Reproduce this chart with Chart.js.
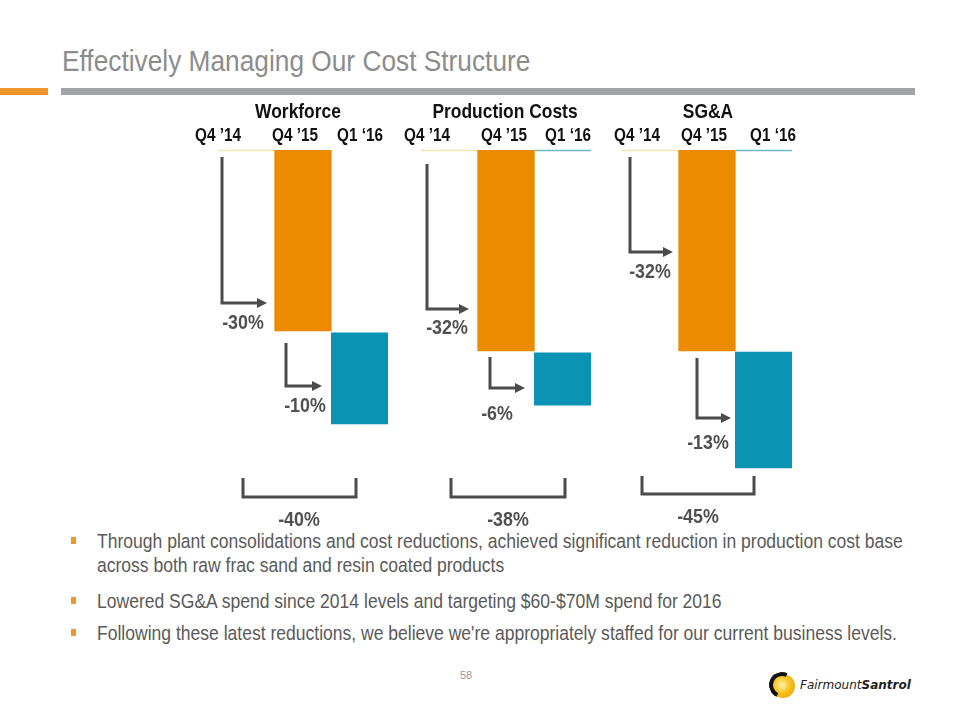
<!DOCTYPE html>
<html>
<head>
<meta charset="utf-8">
<script src="https://cdn.jsdelivr.net/npm/chart.js@4.4.1/dist/chart.umd.min.js"></script>
<style>
  html, body { margin: 0; padding: 0; background: #fff; }
  #page { position: relative; width: 960px; height: 720px; overflow: hidden; background: #fff;
          font-family: "Liberation Sans Narrow", "Arial Narrow", "Liberation Sans", sans-serif; }
  .sq { position: absolute; white-space: nowrap; transform-origin: 0 0; }
  #title { left: 62px; top: 44px; font-size: 30px; color: #8c8c8c; line-height: 34px; transform: scaleX(0.876); }
  #barOrange { position: absolute; left: 0; top: 88px; width: 48px; height: 7px; background: #f0962a; }
  #barGray { position: absolute; left: 61px; top: 88px; width: 854px; height: 7px; background: #a2a3a7; }
  canvas.panel { position: absolute; left: 0; top: 0; }
  .bl { left: 97px; color: #5a5a5a; font-size: 20.5px; line-height: 24px; transform: scaleX(0.855); }
  .dot { position: absolute; left: 71px; width: 5px; height: 7px; background: #f0962a; }
  #pnum { position: absolute; left: 460px; top: 669px; font-size: 11px; color: #9a9a9a; }
  #logo { position: absolute; left: 771px; top: 674px; width: 24px; height: 24px; border-radius: 50%;
          background: radial-gradient(circle at 45% 45%, #fff2a8 0%, #f7c21b 45%, #e49a00 100%); }
  #logo::before { content: ""; position: absolute; left: -2px; top: -2px; width: 26px; height: 26px; border-radius: 50%;
          border: 4px solid transparent; border-top-color: #111; border-left-color: #111; box-sizing: border-box; transform: rotate(-20deg); }
  #logotext { position: absolute; left: 800px; top: 678px; font-family: "DejaVu Sans", sans-serif; font-style: italic; font-size: 12px; color: #222; white-space: nowrap; }
</style>
</head>
<body>
<div id="page">
  <div id="title" class="sq">Effectively Managing Our Cost Structure</div>
  <div id="barOrange"></div>
  <div id="barGray"></div>
  <div class="dot" style="top:537px"></div>
  <div class="sq bl" style="top:529px">Through plant consolidations and cost reductions, achieved significant reduction in production cost base</div>
  <div class="sq bl" style="top:553px">across both raw frac sand and resin coated products</div>
  <div class="dot" style="top:597px"></div>
  <div class="sq bl" style="top:589px">Lowered SG&amp;A spend since 2014 levels and targeting $60-$70M spend for 2016</div>
  <div class="dot" style="top:629px"></div>
  <div class="sq bl" style="top:621px">Following these latest reductions, we believe we're appropriately staffed for our current business levels.</div>
  <div id="pnum">58</div>
  <div id="logo"></div>
  <div id="logotext">Fairmount<b>Santrol</b></div>
  <canvas class="panel" id="c0" width="960" height="720"></canvas>
  <canvas class="panel" id="c1" width="960" height="720"></canvas>
  <canvas class="panel" id="c2" width="960" height="720"></canvas>
</div>
<script>
// ---------- DATA (index levels, Q4 '14 = 100) ----------
const categories = ["Q4 ’14", "Q4 ’15", "Q1 ‘16"];
const panelTitles = ["Workforce", "Production Costs", "SG&A"];

const workforceBars  = [null, [100, 70.0], [69.7, 54.6]];
const productionBars = [null, [100, 66.7], [66.4, 57.7]];
const sgaBars        = [null, [100, 66.7], [66.5, 47.3]];

const workforceSteps  = ["-30%", "-10%"];
const productionSteps = ["-32%", "-6%"];
const sgaSteps        = ["-32%", "-13%"];

const totalChanges = ["-40%", "-38%", "-45%"];
const baseLevel = 100;

// ---------- STYLE / LAYOUT ----------
const ORANGE = "#ec8b00", TEAL = "#0a93b3", ARROW = "#4b4b4b", LABEL = "#505050";
const FONT = '"Liberation Sans Narrow", "Arial Narrow", "Liberation Sans", sans-serif';
const SX = 0.85;

const panels = [
  { bars: workforceBars, steps: workforceSteps, left: 218, right: 388, tealTop: false,
    titleX: 298, tickX: [218, 295, 360],
    arrows: [ { x: 222, y0: 157, y1: 303, tip: 267, lx: 243, ly: 323 },
              { x: 286, y0: 343, y1: 386, tip: 322, lx: 305, ly: 406 } ],
    bracket: { x0: 243, x1: 356, y0: 478, y1: 497, lx: 299, ly: 520 } },
  { bars: productionBars, steps: productionSteps, left: 421, right: 591, tealTop: true,
    titleX: 505, tickX: [427, 504, 568],
    arrows: [ { x: 427, y0: 164, y1: 309, tip: 469, lx: 447, ly: 328 },
              { x: 490, y0: 357, y1: 388, tip: 525, lx: 497, ly: 414 } ],
    bracket: { x0: 451, x1: 565, y0: 478, y1: 497, lx: 508, ly: 520 } },
  { bars: sgaBars, steps: sgaSteps, left: 622, right: 792, tealTop: true,
    titleX: 708, tickX: [637, 704, 773],
    arrows: [ { x: 630, y0: 157, y1: 252, tip: 673, lx: 650, ly: 272 },
              { x: 697, y0: 358, y1: 418, tip: 731, lx: 708, ly: 443 } ],
    bracket: { x0: 642, x1: 754, y0: 476, y1: 494, lx: 698, ly: 517 } }
];

function narrowText(ctx, text, x, y) {
  ctx.save();
  ctx.translate(x, y);
  ctx.scale(SX, 1);
  ctx.fillText(text, 0, 0);
  ctx.restore();
}

function drawArrow(ctx, a) {
  ctx.save();
  ctx.strokeStyle = ARROW; ctx.fillStyle = ARROW; ctx.lineWidth = 3; ctx.lineJoin = "miter";
  ctx.beginPath();
  ctx.moveTo(a.x, a.y0); ctx.lineTo(a.x, a.y1); ctx.lineTo(a.tip - 8, a.y1);
  ctx.stroke();
  ctx.beginPath();
  ctx.moveTo(a.tip, a.y1); ctx.lineTo(a.tip - 10, a.y1 - 5); ctx.lineTo(a.tip - 10, a.y1 + 5); ctx.closePath();
  ctx.fill();
  ctx.restore();
}

function makeOverlay(p, idx) {
  return {
    id: "overlay" + idx,
    beforeDatasetsDraw(chart) {
      const ctx = chart.ctx, x = chart.scales.x, y = chart.scales.y;
      const half = (x.getPixelForValue(1) - x.getPixelForValue(0)) / 2;
      const yTop = y.getPixelForValue(baseLevel);
      ctx.save();
      ctx.lineWidth = 1.5;
      ctx.strokeStyle = "#f2e2b0";
      ctx.beginPath();
      ctx.moveTo(x.getPixelForValue(0) - half, yTop + 0.5);
      ctx.lineTo(x.getPixelForValue(0) + half, yTop + 0.5);
      ctx.stroke();
      if (p.tealTop) {
        ctx.strokeStyle = "#6fb8c8";
        ctx.beginPath();
        ctx.moveTo(x.getPixelForValue(2) - half, yTop + 0.5);
        ctx.lineTo(x.getPixelForValue(2) + half, yTop + 0.5);
        ctx.stroke();
      }
      ctx.restore();
    },
    afterDraw(chart) {
      const ctx = chart.ctx;
      ctx.save();
      ctx.textAlign = "center"; ctx.textBaseline = "middle";
      ctx.fillStyle = "#111";
      ctx.font = "bold 20.5px " + FONT;
      narrowText(ctx, panelTitles[idx], p.titleX, 112);
      ctx.font = "bold 18px " + FONT;
      categories.forEach((c, i) => narrowText(ctx, c, p.tickX[i], 136));
      p.arrows.forEach((a, i) => {
        drawArrow(ctx, a);
        ctx.fillStyle = LABEL; ctx.font = "bold 21px " + FONT;
        narrowText(ctx, p.steps[i], a.lx, a.ly);
      });
      const b = p.bracket;
      ctx.strokeStyle = ARROW; ctx.lineWidth = 3;
      ctx.beginPath();
      ctx.moveTo(b.x0, b.y0); ctx.lineTo(b.x0, b.y1); ctx.lineTo(b.x1, b.y1); ctx.lineTo(b.x1, b.y0);
      ctx.stroke();
      ctx.fillStyle = LABEL; ctx.font = "bold 21px " + FONT;
      narrowText(ctx, totalChanges[idx], b.lx, b.ly);
      ctx.restore();
    }
  };
}

panels.forEach((p, idx) => {
  new Chart(document.getElementById("c" + idx), {
    type: "bar",
    data: {
      labels: categories,
      datasets: [{
        data: p.bars,
        backgroundColor: ["rgba(0,0,0,0)", ORANGE, TEAL],
        borderWidth: 0,
        barPercentage: 1,
        categoryPercentage: 1
      }]
    },
    options: {
      responsive: false,
      animation: false,
      events: [],
      layout: { padding: { left: p.left, right: 960 - p.right, top: 150, bottom: 720 - 512 } },
      plugins: { legend: { display: false }, tooltip: { enabled: false }, title: { display: false } },
      scales: {
        x: { display: false, offset: true },
        y: { display: false, min: 40, max: 100 }
      }
    },
    plugins: [makeOverlay(p, idx)]
  });
});
</script>
</body>
</html>
